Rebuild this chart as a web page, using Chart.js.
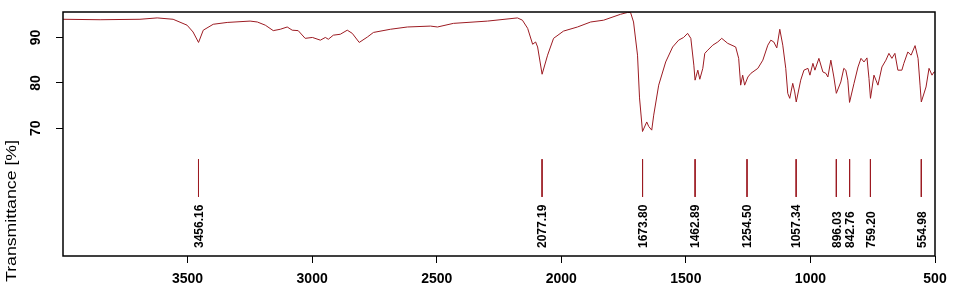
<!DOCTYPE html>
<html>
<head>
<meta charset="utf-8">
<script src="https://cdn.jsdelivr.net/npm/chart.js@4/dist/chart.umd.min.js"></script>
<style>
    html, body { margin: 0; padding: 0; background: #fff; }
    #wrap { width: 956px; height: 289px; }
</style>
</head>
<body>
<div id="wrap"><canvas id="irChart" width="956" height="289"></canvas></div>
<script>
// spectrum (wavenumber cm-1, transmittance %)
var wavenumber = [4000, 3851, 3691, 3622, 3558, 3502, 3478, 3456, 3437, 3397, 3341, 3249, 3220, 3188, 3156, 3128, 3100, 3080, 3056, 3028,
    2999, 2967, 2947, 2935, 2915, 2887, 2859, 2839, 2811, 2778, 2754, 2686, 2618, 2525, 2497, 2433, 2296, 2176, 2156, 2135,
    2115, 2103, 2095, 2077, 2055, 2031, 1991, 1935, 1882, 1830, 1762, 1734, 1722, 1710, 1694, 1686, 1674, 1657, 1649, 1637,
    1629, 1609, 1581, 1553, 1529, 1509, 1493, 1480, 1468, 1463, 1452, 1444, 1432, 1424, 1412, 1392, 1372, 1356, 1332, 1300,
    1288, 1280, 1272, 1264, 1251, 1239, 1211, 1191, 1171, 1159, 1147, 1135, 1123, 1111, 1099, 1091, 1083, 1071, 1063, 1057,
    1039, 1026, 1010, 1002, 990, 982, 966, 950, 938, 930, 918, 906, 896, 878, 866, 858, 850, 843, 825, 809,
    797, 785, 773, 765, 759, 745, 737, 729, 713, 697, 685, 673, 661, 649, 633, 625, 609, 596, 580, 568,
    560, 555, 536, 524, 512, 504, 500];
var transmittance = [94.0, 93.9, 94.0, 94.3, 94.0, 92.7, 91.2, 88.9, 91.6, 92.9, 93.3, 93.6, 93.4, 92.7, 91.5, 91.8, 92.3, 91.6, 91.5, 89.8,
    90.0, 89.4, 90.0, 89.6, 90.5, 90.7, 91.6, 90.9, 88.9, 90.1, 91.1, 91.8, 92.3, 92.5, 92.3, 93.1, 93.6, 94.3, 93.8, 92.0,
    88.5, 89.0, 87.9, 81.9, 86.1, 89.8, 91.4, 92.3, 93.4, 93.8, 95.1, 95.5, 95.5, 93.4, 86.1, 76.7, 69.3, 71.4, 70.4, 69.6,
    72.9, 79.5, 84.6, 87.9, 89.4, 90.0, 90.9, 89.8, 83.9, 80.6, 82.8, 80.8, 83.2, 86.5, 87.2, 88.3, 89.0, 89.8, 88.7, 87.9,
    85.4, 79.5, 81.7, 79.5, 81.3, 82.1, 83.2, 85.0, 88.3, 89.4, 89.0, 87.7, 91.8, 88.3, 83.2, 77.7, 76.6, 79.9, 78.0, 75.8,
    80.6, 82.8, 83.2, 81.7, 84.3, 82.8, 85.4, 82.4, 82.1, 81.3, 85.0, 81.3, 77.7, 80.2, 83.2, 82.8, 80.6, 75.7, 79.9, 83.5,
    85.4, 84.6, 85.5, 81.0, 76.6, 81.7, 80.6, 79.5, 83.5, 85.0, 86.5, 85.4, 86.5, 82.8, 82.8, 84.3, 86.8, 86.1, 88.2, 85.4,
    79.5, 75.8, 79.1, 83.2, 81.7, 82.4, 82.4];

// picked peaks
var peakPositions = [3456.16, 2077.19, 1673.80, 1462.89, 1254.50, 1057.34, 896.03, 842.76, 759.20, 554.98];
var peakLabels = ['3456.16', '2077.19', '1673.80', '1462.89', '1254.50', '1057.34', '896.03', '842.76', '759.20', '554.98'];
var markerTop = 63.2;
var markerBottom = 54.9;

var xTicks = [3500, 3000, 2500, 2000, 1500, 1000, 500];
var yTicks = [70, 80, 90];
var yTitle = 'Transmittance [%]';

var lineColor = '#9c1b22';

var spectrum = [];
for (var i = 0; i < wavenumber.length; i++) {
    spectrum.push({x: wavenumber[i], y: transmittance[i]});
}

// one dataset, gaps between the marker strokes
var markers = [];
peakPositions.forEach(function(p){
    markers.push({x: p, y: markerTop});
    markers.push({x: p, y: markerBottom});
    markers.push({x: p, y: null});
});

var framePlugin = {
    id: 'frame',
    afterDraw: function(chart){
        var ctx = chart.ctx;
        var a = chart.chartArea;
        var xs = chart.scales.x;
        var ys = chart.scales.y;
        ctx.save();

        // box round the plot
        ctx.strokeStyle = '#000';
        ctx.lineWidth = 1.5;
        ctx.strokeRect(a.left, a.top, a.right - a.left, a.bottom - a.top);

        // y tick labels, turned like R does
        ctx.fillStyle = '#000';
        ctx.font = 'bold 14px "Liberation Sans", Arial, sans-serif';
        ctx.textAlign = 'center';
        ctx.textBaseline = 'middle';
        yTicks.forEach(function(v){
            ctx.save();
            ctx.translate(36, ys.getPixelForValue(v));
            ctx.rotate(-Math.PI / 2);
            ctx.fillText(String(v), 0, 0);
            ctx.restore();
        });

        // axis title, stretched to the width it has in the picture
        ctx.font = '14px "Liberation Sans", Arial, sans-serif';
        var w = ctx.measureText(yTitle).width;
        ctx.save();
        ctx.translate(12, 211);
        ctx.rotate(-Math.PI / 2);
        ctx.scale(142 / w, 1);
        ctx.fillText(yTitle, 0, 0);
        ctx.restore();

        // peak labels
        ctx.font = 'bold 12px "Liberation Sans", Arial, sans-serif';
        ctx.textAlign = 'left';
        peakPositions.forEach(function(p, k){
            ctx.save();
            ctx.translate(xs.getPixelForValue(p), a.bottom - 8);
            ctx.rotate(-Math.PI / 2);
            ctx.fillText(peakLabels[k], 0, 1);
            ctx.restore();
        });
        ctx.restore();
    }
};

var ctx = document.getElementById('irChart');
var irChart = new Chart(ctx, {
    type: 'line',
    data: {
        datasets: [
            {
                data: spectrum,
                borderColor: lineColor,
                borderWidth: 1,
                pointRadius: 0,
                tension: 0,
                fill: false
            },
            {
                data: markers,
                borderColor: lineColor,
                borderWidth: 1,
                pointRadius: 0,
                spanGaps: false,
                fill: false
            }
        ]
    },
    options: {
        responsive: false,
        animation: false,
        events: [],
        layout: {
            padding: {left: 0, top: 12, right: 21, bottom: 0}
        },
        plugins: {
            legend: {display: false},
            tooltip: {enabled: false}
        },
        scales: {
            x: {
                type: 'linear',
                reverse: true,
                min: 500,
                max: 4000,
                afterBuildTicks: function(scale){
                    scale.ticks = xTicks.map(function(v){ return {value: v}; });
                },
                afterFit: function(scale){
                    scale.height = 33;
                },
                ticks: {
                    autoSkip: false,
                    maxRotation: 0,
                    padding: 8,
                    color: '#000',
                    font: {family: '"Liberation Sans", Arial, sans-serif', size: 14, weight: 'bold'},
                    callback: function(v){ return String(v); }
                },
                grid: {
                    drawOnChartArea: false,
                    drawTicks: true,
                    tickLength: 7,
                    color: '#000'
                },
                border: {display: false}
            },
            y: {
                type: 'linear',
                min: 41.9,
                max: 95.6,
                afterBuildTicks: function(scale){
                    scale.ticks = yTicks.map(function(v){ return {value: v}; });
                },
                afterFit: function(scale){
                    scale.width = 63;
                },
                ticks: {display: false},
                grid: {
                    drawOnChartArea: false,
                    drawTicks: true,
                    tickLength: 7,
                    color: '#000'
                },
                border: {display: false}
            }
        }
    },
    plugins: [framePlugin]
});
</script>
</body>
</html>
